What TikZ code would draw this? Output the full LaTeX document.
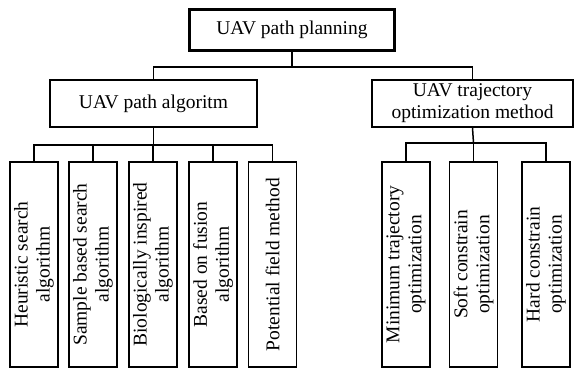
\documentclass[tikz,border=0pt]{standalone}
\usepackage{fontspec}
\setmainfont{Liberation Serif}
\begin{document}
\begin{tikzpicture}[x=1pt,y=-1pt,
  box/.style={draw=black,line width=1.4pt,rectangle,inner sep=1pt,align=center,
    font=\fontsize{19.5}{22}\selectfont},
  topbox/.style={box,line width=3pt,minimum width=205pt,minimum height=41pt},
  midbox/.style={box,minimum height=47pt},
  leaf/.style={box,rotate=90,minimum width=205pt,minimum height=48pt},
  conn/.style={line width=1.5pt,draw=black}]
\useasboundingbox (0,0) rectangle (574,370);
\node[topbox] (top) at (292,29.5) {UAV path planning};
\node[midbox,minimum width=207pt] (alg) at (153.5,103.5) {UAV path algoritm};
\node[midbox,minimum width=201pt] (traj) at (472.5,103.5) {UAV trajectory\\optimization method};
\node[leaf] (l1) at (34,264.5) {Heuristic search\\algorithm};
\node[leaf] (l2) at (93,264.5) {Sample based search\\algorithm};
\node[leaf] (l3) at (153,264.5) {Biologically inspired\\algorithm};
\node[leaf] (l4) at (213,264.5) {Based on fusion\\algorithm};
\node[leaf] (l5) at (272.5,264.5) {Potential field method};
\node[leaf] (r1) at (406,264.5) {Minimum trajectory\\optimization};
\node[leaf] (r2) at (473.5,264.5) {Soft constrain\\optimization};
\node[leaf] (r3) at (546,264.5) {Hard constrain\\optimization};
\coordinate (b0) at (292,67);
\coordinate (b1) at (153.5,145);
\coordinate (b2) at (473.5,143);
\draw[conn] (top.south) -- (b0);
\draw[conn] (b0) -| (alg.north);
\draw[conn] (b0) -| (traj.north);
\draw[conn] (alg.south) -- (b1);
\foreach \n in {l1,l2,l3,l4,l5} \draw[conn] (b1) -| (\n.east);
\draw[conn] (traj.south) -- (b2);
\foreach \n in {r1,r2,r3} \draw[conn] (b2) -| (\n.east);
\end{tikzpicture}
\end{document}
